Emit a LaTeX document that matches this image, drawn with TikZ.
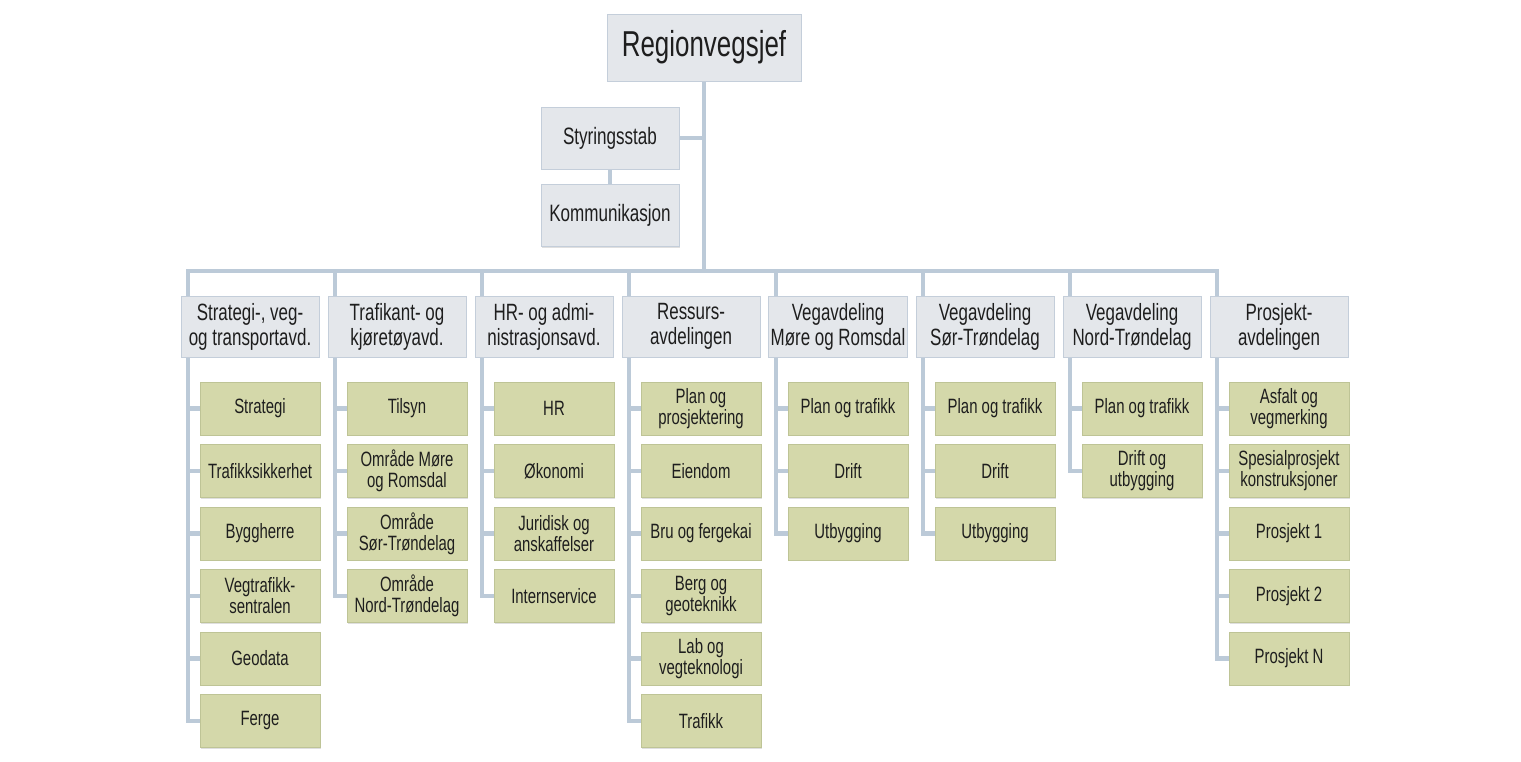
\documentclass[tikz,border=0pt]{standalone}
\usepackage{fontspec}
\setmainfont[FakeStretch=0.72]{Liberation Sans}
\usetikzlibrary{backgrounds,shadows}
\definecolor{conn}{RGB}{188,202,216}
\definecolor{hdrfill}{RGB}{228,231,235}
\definecolor{hdrline}{RGB}{196,206,218}
\definecolor{chfill}{RGB}{212,216,170}
\definecolor{chline}{RGB}{190,196,150}
\definecolor{txt}{RGB}{30,30,30}
\tikzset{
  base/.style={rectangle, align=center, text=txt, inner sep=1pt,
    drop shadow={shadow xshift=0.6pt, shadow yshift=-0.8pt, opacity=0.25}},
  topbox/.style={base, fill=hdrfill, draw=hdrline, line width=0.5pt,
    minimum width=3.88cm, minimum height=1.34cm, font=\fontsize{20.5}{24}\selectfont},
  staffbox/.style={base, fill=hdrfill, draw=hdrline, line width=0.5pt,
    minimum width=2.76cm, minimum height=1.24cm, font=\fontsize{13.5}{15}\selectfont},
  hdrbox/.style={base, fill=hdrfill, draw=hdrline, line width=0.5pt,
    minimum width=2.76cm, minimum height=1.22cm, font=\fontsize{13.4}{14.2}\selectfont},
  chbox/.style={base, fill=chfill, draw=chline, line width=0.4pt,
    minimum width=2.4cm, minimum height=1.06cm, font=\fontsize{11.8}{12}\selectfont},
  link/.style={draw=conn, line width=2.8pt, line cap=rect, line join=miter}
}
\begin{document}
\begin{tikzpicture}[x=0.02cm, y=-0.02cm]
\useasboundingbox (0,0) rectangle (1521,761);

% top
\node[topbox] (rv) at (704,47.5) {Regionvegsjef};
\node[staffbox] (sty) at (610,138) {Styringsstab};
\node[staffbox] (kom) at (610,215.5) {Kommunikasjon};

% headers
\node[hdrbox] (h1) at (250,326.5) {Strategi-, veg-\\og transportavd.};
\node[hdrbox] (h2) at (397,326.5) {Trafikant- og\\kjøretøyavd.};
\node[hdrbox] (h3) at (544,326.5) {HR- og admi-\\nistrasjonsavd.};
\node[hdrbox] (h4) at (691,326.5) {Ressurs-\\avdelingen};
\node[hdrbox] (h5) at (838,326.5) {Vegavdeling\\Møre og Romsdal};
\node[hdrbox] (h6) at (985,326.5) {Vegavdeling\\Sør-Trøndelag};
\node[hdrbox] (h7) at (1132,326.5) {Vegavdeling\\Nord-Trøndelag};
\node[hdrbox] (h8) at (1279,326.5) {Prosjekt-\\avdelingen};

% column 1
\node[chbox] (c1a) at (260,408.5) {Strategi};
\node[chbox] (c1b) at (260,471) {Trafikksikkerhet};
\node[chbox] (c1c) at (260,533.5) {Byggherre};
\node[chbox] (c1d) at (260,596) {Vegtrafikk-\\sentralen};
\node[chbox] (c1e) at (260,658.5) {Geodata};
\node[chbox] (c1f) at (260,721) {Ferge};
% column 2
\node[chbox] (c2a) at (407,408.5) {Tilsyn};
\node[chbox] (c2b) at (407,471) {Område Møre\\og Romsdal};
\node[chbox] (c2c) at (407,533.5) {Område\\Sør-Trøndelag};
\node[chbox] (c2d) at (407,596) {Område\\Nord-Trøndelag};
% column 3
\node[chbox] (c3a) at (554,408.5) {HR};
\node[chbox] (c3b) at (554,471) {Økonomi};
\node[chbox] (c3c) at (554,533.5) {Juridisk og\\anskaffelser};
\node[chbox] (c3d) at (554,596) {Internservice};
% column 4
\node[chbox] (c4a) at (701,408.5) {Plan og\\prosjektering};
\node[chbox] (c4b) at (701,471) {Eiendom};
\node[chbox] (c4c) at (701,533.5) {Bru og fergekai};
\node[chbox] (c4d) at (701,596) {Berg og\\geoteknikk};
\node[chbox] (c4e) at (701,658.5) {Lab og\\vegteknologi};
\node[chbox] (c4f) at (701,721) {Trafikk};
% column 5
\node[chbox] (c5a) at (848,408.5) {Plan og trafikk};
\node[chbox] (c5b) at (848,471) {Drift};
\node[chbox] (c5c) at (848,533.5) {Utbygging};
% column 6
\node[chbox] (c6a) at (995,408.5) {Plan og trafikk};
\node[chbox] (c6b) at (995,471) {Drift};
\node[chbox] (c6c) at (995,533.5) {Utbygging};
% column 7
\node[chbox] (c7a) at (1142,408.5) {Plan og trafikk};
\node[chbox] (c7b) at (1142,471) {Drift og\\utbygging};
% column 8
\node[chbox] (c8a) at (1289,408.5) {Asfalt og\\vegmerking};
\node[chbox] (c8b) at (1289,471) {Spesialprosjekt\\konstruksjoner};
\node[chbox] (c8c) at (1289,533.5) {Prosjekt 1};
\node[chbox] (c8d) at (1289,596) {Prosjekt 2};
\node[chbox] (c8e) at (1289,658.5) {Prosjekt N};

% bus coordinates
\coordinate (b1) at (188,271);
\coordinate (b2) at (335,271);
\coordinate (b3) at (482,271);
\coordinate (b4) at (629,271);
\coordinate (b5) at (776,271);
\coordinate (b6) at (923,271);
\coordinate (b7) at (1070,271);
\coordinate (b8) at (1217,271);

\begin{pgfonlayer}{background}
  \path[link] (rv.south) -- (rv.south |- b1);
  \path[link] (sty.east) -- (sty.east -| rv.south);
  \path[link] (sty.south) -- (kom.north);
  \path[link] (b1) -- (b8);
  \foreach \c in {a,b,c,d,e,f} \path[link] (b1) |- (c1\c.west);
  \foreach \c in {a,b,c,d} \path[link] (b2) |- (c2\c.west);
  \foreach \c in {a,b,c,d} \path[link] (b3) |- (c3\c.west);
  \foreach \c in {a,b,c,d,e,f} \path[link] (b4) |- (c4\c.west);
  \foreach \c in {a,b,c} \path[link] (b5) |- (c5\c.west);
  \foreach \c in {a,b,c} \path[link] (b6) |- (c6\c.west);
  \foreach \c in {a,b} \path[link] (b7) |- (c7\c.west);
  \foreach \c in {a,b,c,d,e} \path[link] (b8) |- (c8\c.west);
\end{pgfonlayer}
\end{tikzpicture}
\end{document}
